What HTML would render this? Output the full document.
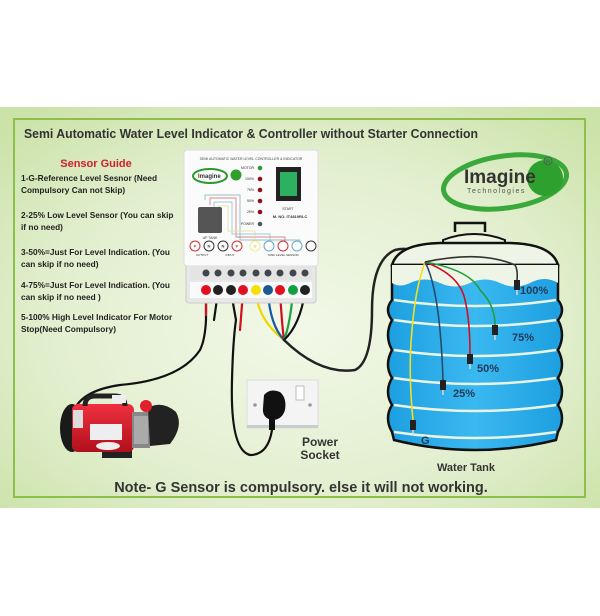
<!DOCTYPE html>
<html><head><meta charset="utf-8"><style>
html,body{margin:0;padding:0;background:#fff;}
svg{display:block;}
text{font-family:"Liberation Sans",Arial,sans-serif;}
</style></head><body>
<svg width="600" height="616" viewBox="0 0 600 616" xmlns="http://www.w3.org/2000/svg">
<defs>
<radialGradient id="bg" cx="0.5" cy="0.55" r="0.7">
<stop offset="0" stop-color="#f2f8e8"/><stop offset="0.6" stop-color="#e2efcf"/><stop offset="1" stop-color="#cbe2a8"/>
</radialGradient>
<linearGradient id="water" x1="0" x2="1"><stop offset="0" stop-color="#1d9fe0"/><stop offset="0.5" stop-color="#3ab8f0"/><stop offset="1" stop-color="#1d9fe0"/></linearGradient>
<linearGradient id="pumpr" x1="0" y1="0" x2="0" y2="1"><stop offset="0" stop-color="#f03040"/><stop offset="1" stop-color="#b0101c"/></linearGradient>
</defs>
<rect x="0" y="107" width="600" height="401" fill="url(#bg)"/>
<rect x="14" y="119" width="571" height="378" fill="none" stroke="#8cc04a" stroke-width="2"/>

<text x="24" y="138" font-size="13.2" font-weight="bold" fill="#333" textLength="454" lengthAdjust="spacingAndGlyphs">Semi Automatic Water Level Indicator &amp; Controller without Starter Connection</text>

<text x="96" y="167" font-size="11" font-weight="bold" fill="#d0202a" text-anchor="middle">Sensor Guide</text>
<g font-size="8.3" font-weight="bold" fill="#222">
<text x="21" y="181">1-G-Reference Level Sesnor (Need</text>
<text x="21" y="193">Compulsory Can not Skip)</text>
<text x="21" y="218">2-25% Low Level Sensor (You can skip</text>
<text x="21" y="230">if no need)</text>
<text x="21" y="255">3-50%=Just For Level Indication. (You</text>
<text x="21" y="267">can skip if no need)</text>
<text x="21" y="288">4-75%=Just For Level Indication. (You</text>
<text x="21" y="300">can skip if no need )</text>
<text x="21" y="320">5-100% High Level Indicator For Motor</text>
<text x="21" y="332">Stop(Need Compulsory)</text>
</g>

<!-- logo -->
<g transform="translate(0,0)">
<ellipse cx="505" cy="182" rx="62" ry="26" fill="none" stroke="#3aa83a" stroke-width="5" transform="rotate(-8 505 182)"/>
<circle cx="545" cy="178" rx="18" r="18" fill="#2ea02e"/>
<text x="464" y="183" font-size="19" font-weight="bold" fill="#333">Imagine</text>
<text x="467" y="193" font-size="7" fill="#555" letter-spacing="1.5">Technologies</text>
<circle cx="548" cy="161" r="4" fill="none" stroke="#555" stroke-width="0.8"/>
<text x="548" y="163.5" font-size="5.5" fill="#555" text-anchor="middle">R</text>
</g>

<!-- wires from controller -->
<g fill="none" stroke-width="2.2" stroke-linecap="round">
<path d="M206 292 L206 320 Q205 340 200 350 Q180 380 120 385 Q85 390 75 408" stroke="#111"/>
<path d="M206 292 L206 315" stroke="#d01020"/>
<path d="M218 292 L214 320" stroke="#111"/>
<path d="M231 292 L236 320 Q233 340 232 380 Q230 450 250 455 Q268 455 272 430" stroke="#111"/>
<path d="M243 292 L240 330" stroke="#d01020"/>
<path d="M256 292 Q258 320 284 340" stroke="#f0d800"/>
<path d="M268 292 Q270 325 284 340" stroke="#1a5aa0"/>
<path d="M280 292 Q282 325 284 340" stroke="#d01020"/>
<path d="M293 292 Q290 325 284 340" stroke="#20a040"/>
<path d="M305 292 Q300 325 284 340" stroke="#111"/>
<path d="M284 340 Q320 375 355 370 Q372 362 372 310 Q372 260 395 250 Q415 245 425 262" stroke="#222" stroke-width="2.5"/>
</g>

<!-- controller -->
<rect x="186" y="263" width="130" height="40" rx="3" fill="#e8e8e8" stroke="#ccc"/>
<rect x="184" y="150" width="134" height="116" rx="3" fill="#fbfbfb" stroke="#ddd"/>
<rect x="190" y="266" width="122" height="14" fill="#e4e4e4"/>
<g fill="#40464e">
<circle cx="206" cy="273" r="3.5"/><circle cx="218" cy="273" r="3.5"/><circle cx="231" cy="273" r="3.5"/><circle cx="243" cy="273" r="3.5"/><circle cx="256" cy="273" r="3.5"/><circle cx="268" cy="273" r="3.5"/><circle cx="280" cy="273" r="3.5"/><circle cx="293" cy="273" r="3.5"/><circle cx="305" cy="273" r="3.5"/>
</g>
<rect x="190" y="282" width="122" height="16" fill="#fafafa"/>
<circle cx="206" cy="290" r="5" fill="#e0101e"/><circle cx="218" cy="290" r="5" fill="#222"/><circle cx="231" cy="290" r="5" fill="#222"/><circle cx="243" cy="290" r="5" fill="#e0101e"/><circle cx="256" cy="290" r="5" fill="#f5e000"/><circle cx="268" cy="290" r="5" fill="#1a5a90"/><circle cx="280" cy="290" r="5" fill="#e0101e"/><circle cx="293" cy="290" r="5" fill="#10a040"/><circle cx="305" cy="290" r="5" fill="#222"/>
<text x="251" y="160" font-size="3.5" fill="#444" text-anchor="middle">SEMI AUTOMATIC WATER LEVEL CONTROLLER &amp; INDICATOR</text>
<ellipse cx="210" cy="176" rx="17" ry="7" fill="none" stroke="#2a9a2a" stroke-width="2"/>
<circle cx="236" cy="175" r="5.5" fill="#2ea02e"/>
<text x="198" y="178" font-size="6" font-weight="bold" fill="#333">Imagine</text>
<g font-size="3.5" fill="#333" text-anchor="end">
<text x="254" y="169">MOTOR</text><text x="254" y="180">100%</text><text x="254" y="191">75%</text><text x="254" y="202">50%</text><text x="254" y="213">25%</text><text x="254" y="225">POWER</text>
</g>
<circle cx="260" cy="168" r="2.3" fill="#2a9a3a"/><circle cx="260" cy="179" r="2.3" fill="#901018"/><circle cx="260" cy="190" r="2.3" fill="#901018"/><circle cx="260" cy="201" r="2.3" fill="#901018"/><circle cx="260" cy="212" r="2.3" fill="#901018"/><circle cx="260" cy="224" r="2.3" fill="#555"/>
<rect x="276" y="167" width="25" height="34" fill="#222"/>
<rect x="280" y="172" width="17" height="24" fill="#2db060"/>
<text x="288" y="210" font-size="3.5" fill="#333" text-anchor="middle">START</text>
<text x="290" y="218" font-size="4" font-weight="bold" fill="#333" text-anchor="middle">M. NO. IT4819RLC</text>
<g fill="none" stroke-width="0.7">
<path d="M205 200 V195 H240 V240 H300 V245" stroke="#7ab"/>
<path d="M210 205 V198 H236 V237 H285 V245" stroke="#c66"/>
<path d="M214 210 V202 H232 V234 H270 V245" stroke="#8bc"/>
<path d="M218 215 V206 H228 V231 H255 V245" stroke="#dd9"/>
</g>
<rect x="198" y="207" width="24" height="26" fill="#555" rx="2"/>
<text x="210" y="239" font-size="3.5" fill="#333" text-anchor="middle">UP TANK</text>
<g font-size="4" font-weight="bold" text-anchor="middle">
<circle cx="195" cy="246" r="5" fill="#fff" stroke="#c33"/><text x="195" y="247.5" fill="#c33">P</text>
<circle cx="209" cy="246" r="5" fill="#fff" stroke="#333"/><text x="209" y="247.5" fill="#333">N</text>
<circle cx="223" cy="246" r="5" fill="#fff" stroke="#333"/><text x="223" y="247.5" fill="#333">N</text>
<circle cx="237" cy="246" r="5" fill="#fff" stroke="#c33"/><text x="237" y="247.5" fill="#c33">P</text>
<circle cx="255" cy="246" r="5" fill="#fff" stroke="#ee8"/><text x="255" y="247.5" fill="#cc6">G</text>
<circle cx="269" cy="246" r="5" fill="#fff" stroke="#6ac"/>
<circle cx="283" cy="246" r="5" fill="#fff" stroke="#c33"/>
<circle cx="297" cy="246" r="5" fill="#fff" stroke="#6ac"/>
<circle cx="311" cy="246" r="5" fill="#fff" stroke="#333"/>
</g>
<g font-size="3" fill="#333" text-anchor="middle"><text x="202" y="256">OUTPUT</text><text x="230" y="256">INPUT</text><text x="283" y="256">TANK LEVEL SENSOR</text></g>

<!-- pump -->
<g>
<rect x="102" y="448" width="30" height="10" fill="#222"/>
<ellipse cx="72" cy="428" rx="12" ry="24" fill="#1a1a1a"/>
<rect x="72" y="404" width="62" height="48" rx="6" fill="url(#pumpr)"/>
<rect x="73" y="410" width="10" height="18" fill="#ddd"/>
<rect x="90" y="424" width="32" height="16" fill="#eee"/>
<ellipse cx="108" cy="446" rx="12" ry="4" fill="#eee"/>
<path d="M85 406 Q85 396 95 396 H115 Q125 396 125 406" fill="none" stroke="#222" stroke-width="5"/>
<rect x="112" y="395" width="14" height="8" fill="#eee"/>
<rect x="132" y="412" width="18" height="36" fill="#888"/>
<rect x="134" y="416" width="14" height="28" fill="#aaa"/>
<path d="M148 408 Q162 400 176 412 Q184 426 170 444 L150 446 Z" fill="#222"/>
<circle cx="146" cy="406" r="6" fill="#e0202a"/>
</g>

<!-- socket -->
<rect x="247" y="380" width="71" height="48" fill="#f4f4f4" stroke="#ddd"/>
<rect x="247" y="425" width="71" height="3" fill="#ccc"/>
<rect x="296" y="386" width="8" height="14" fill="#fff" stroke="#bbb"/>
<circle cx="255" cy="405" r="1.8" fill="#999"/><circle cx="310" cy="405" r="1.8" fill="#999"/>
<path d="M264 395 Q270 388 280 392 Q287 398 285 410 Q282 420 272 420 Q262 418 263 408 Z" fill="#111"/>
<rect x="269" y="418" width="6" height="12" fill="#111"/>
<text x="320" y="446" font-size="12" font-weight="bold" fill="#333" text-anchor="middle">Power</text>
<text x="320" y="459" font-size="12" font-weight="bold" fill="#333" text-anchor="middle">Socket</text>

<!-- tank -->
<path d="M455 232 V223 H485 V232" fill="none" stroke="#111" stroke-width="2.5"/>
<path d="M443 240 Q474 228 505 240 L505 248 L443 248 Z" fill="#eef5e0" stroke="#111" stroke-width="2"/>
<path d="M392 265 Q398 244 440 243 L510 243 Q552 244 558 265 Z" fill="#eef5e6" stroke="#111" stroke-width="2.5"/>
<path d="M392 265 L558 265 L558 300 Q566 310 558 320 Q566 335 558 350 Q566 365 558 378 Q566 392 558 405 Q566 418 558 432 L556 440 Q475 460 394 440 L392 432 Q384 418 392 405 Q384 392 392 378 Q384 365 392 350 Q384 335 392 320 Q384 310 392 300 Z" fill="url(#water)" stroke="#111" stroke-width="2.5"/>
<path d="M392 265 L558 265 L558 283 Q545 275 530 283 Q515 290 500 283 Q485 276 470 283 Q455 290 440 283 Q425 276 410 283 Q400 288 392 283 Z" fill="#eef5e6"/>
<g fill="none" stroke="#e8f4e0" stroke-width="2.5">
<path d="M394 300 Q475 312 556 300"/><path d="M394 320 Q475 332 556 320"/><path d="M394 350 Q475 362 556 350"/><path d="M394 378 Q475 390 556 378"/><path d="M394 405 Q475 417 556 405"/><path d="M394 432 Q475 444 556 432"/>
</g>
<g fill="none" stroke-width="1.6">
<path d="M425 262 Q415 290 412 330 Q408 370 413 420" stroke="#f0e020"/>
<path d="M425 262 Q440 290 443 380" stroke="#2a4a6a"/>
<path d="M425 262 Q460 275 465 300 Q470 320 470 355" stroke="#d01020"/>
<path d="M425 262 Q470 270 480 290 Q495 305 495 325" stroke="#20a040"/>
<path d="M425 262 Q480 250 515 265 Q518 270 517 280" stroke="#333"/>
</g>
<g fill="#222">
<rect x="514" y="280" width="6" height="10"/><rect x="492" y="325" width="6" height="10"/><rect x="467" y="354" width="6" height="10"/><rect x="440" y="380" width="6" height="10"/><rect x="410" y="420" width="6" height="10"/>
</g>
<g stroke="#ddd" stroke-width="1.4">
<path d="M517 290 v5"/><path d="M495 335 v5"/><path d="M470 364 v5"/><path d="M443 390 v5"/><path d="M413 430 v5"/>
</g>
<g font-size="11" font-weight="bold" fill="#243a5a">
<text x="520" y="294">100%</text><text x="512" y="341">75%</text><text x="477" y="372">50%</text><text x="453" y="397">25%</text><text x="421" y="444">G</text>
</g>
<text x="466" y="471" font-size="11" font-weight="bold" fill="#333" text-anchor="middle">Water Tank</text>

<text x="301" y="492" font-size="14.5" font-weight="bold" fill="#333" text-anchor="middle">Note- G Sensor is compulsory. else it will not working.</text>
</svg>
</body></html>
